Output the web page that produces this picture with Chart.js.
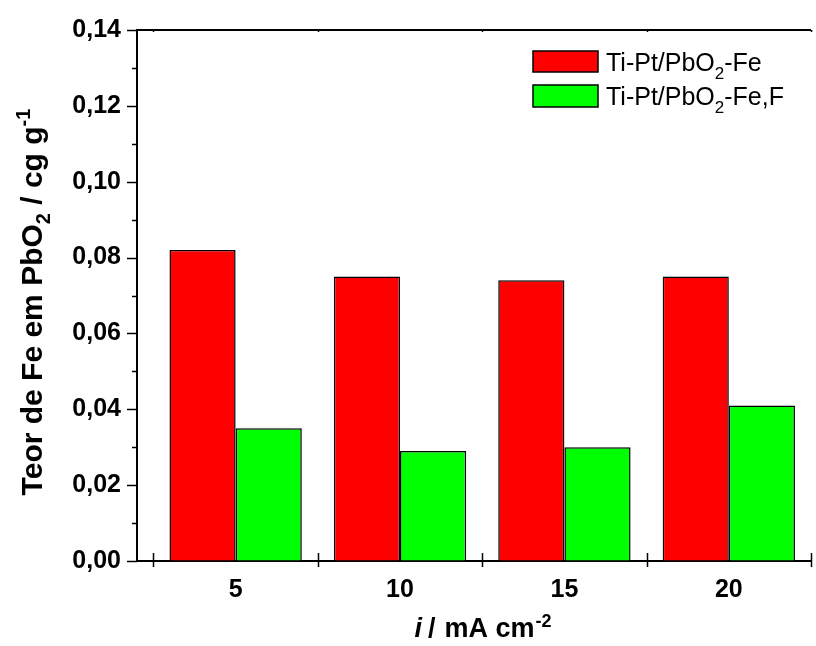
<!DOCTYPE html>
<html>
<head>
<meta charset="utf-8">
<script src="https://cdn.jsdelivr.net/npm/chart.js@4/dist/chart.umd.min.js"></script>
<style>
  body { margin: 0; background: #fff; }
  canvas { display: block; }
</style>
</head>
<body>
<canvas id="feChart" width="816" height="646"></canvas>
<script>
// current density categories (mA cm-2)
const currents = [5, 10, 15, 20];
// Fe content in PbO2 (cg g-1)
const feOnly = [0.082, 0.075, 0.074, 0.075];
const feAndF = [0.035, 0.029, 0.030, 0.041];
// tick marks on the x axis (between the groups)
const xTickMarks = [2.5, 7.5, 12.5, 17.5, 22.5];
const seriesNames = ['Ti-Pt/PbO|2|-Fe', 'Ti-Pt/PbO|2|-Fe,F'];

const FONT = '"Liberation Sans", Arial, sans-serif';

// draws a string with a subscript/superscript part, returns width
function drawRich(ctx, parts, x, y, measureOnly) {
    let cx = x;
    parts.forEach(p => {
        ctx.font = p.font;
        if (!measureOnly) ctx.fillText(p.text, cx, y + (p.dy || 0));
        cx += ctx.measureText(p.text).width + (p.gap || 0);
    });
    return cx - x;
}

const decorations = {
    id: 'decorations',
    afterDraw(chart) {
        const { ctx, chartArea: a, scales: { x, y } } = chart;
        ctx.save();
        ctx.strokeStyle = '#000';
        ctx.fillStyle = '#000';
        ctx.lineWidth = 2;

        // top frame line
        ctx.beginPath();
        ctx.moveTo(a.left, a.top);
        ctx.lineTo(a.right, a.top);
        ctx.stroke();

        ctx.lineWidth = 1.5;
        // x tick marks crossing the axis
        xTickMarks.forEach(v => {
            const px = Math.round(x.getPixelForValue(v)) + 0.5;
            ctx.beginPath();
            ctx.moveTo(px, a.bottom - 8);
            ctx.lineTo(px, a.bottom + 6);
            ctx.stroke();
            ctx.beginPath();
            ctx.moveTo(px, a.top);
            ctx.lineTo(px, a.top + 2);
            ctx.stroke();
        });
        // y tick marks, major every 0.02, minor every 0.01
        for (let k = 0; k <= 14; k++) {
            const py = Math.round(y.getPixelForValue(k / 100)) + 0.5;
            const len = k % 2 === 0 ? 10 : 5;
            ctx.beginPath();
            ctx.moveTo(a.left - len, py);
            ctx.lineTo(a.left, py);
            ctx.stroke();
        }

        // legend
        const colors = chart.data.datasets.map(d => d.backgroundColor);
        const boxes = [[51, 72, 71], [85, 107, 105]];
        seriesNames.forEach((name, i) => {
            const [t, b, base] = boxes[i];
            ctx.fillStyle = colors[i];
            ctx.fillRect(533, t, 65, b - t);
            ctx.lineWidth = 1.5;
            ctx.strokeRect(533, t, 65, b - t);
            ctx.fillStyle = '#000';
            ctx.textAlign = 'left';
            ctx.textBaseline = 'alphabetic';
            const [a1, sub, a2] = name.split('|');
            drawRich(ctx, [
                { text: a1, font: '25px ' + FONT },
                { text: sub, font: '17px ' + FONT, dy: 8 },
                { text: a2, font: '25px ' + FONT }
            ], 606, base);
        });

        // x axis title
        const xParts = [
            { text: 'i', font: 'italic bold 27px ' + FONT, gap: 6 },
            { text: '/', font: 'bold 27px ' + FONT, gap: 9 },
            { text: 'mA cm', font: 'bold 27px ' + FONT, gap: 1 },
            { text: '-2', font: 'bold 18px ' + FONT, dy: -10 }
        ];
        const xw = drawRich(ctx, xParts, 0, 0, true);
        drawRich(ctx, xParts, 483 - xw / 2, 637);

        // y axis title (rotated)
        const yParts = [
            { text: 'Teor de Fe em PbO', font: 'bold 30px ' + FONT },
            { text: '2', font: 'bold 20px ' + FONT, dy: 8 },
            { text: ' / cg g', font: 'bold 30px ' + FONT },
            { text: '-1', font: 'bold 20px ' + FONT, dy: -12 }
        ];
        const yw = drawRich(ctx, yParts, 0, 0, true);
        ctx.translate(42, 302);
        ctx.rotate(-Math.PI / 2);
        drawRich(ctx, yParts, -yw / 2, 0);
        ctx.restore();
    }
};

new Chart(document.getElementById('feChart'), {
    type: 'bar',
    data: {
        datasets: [
            {
                label: 'Ti-Pt/PbO2-Fe',
                data: currents.map((c, i) => ({ x: c, y: feOnly[i] })),
                backgroundColor: '#ff0000',
                borderColor: '#000',
                borderWidth: 1.5
            },
            {
                label: 'Ti-Pt/PbO2-Fe,F',
                data: currents.map((c, i) => ({ x: c, y: feAndF[i] })),
                backgroundColor: '#00ff00',
                borderColor: '#000',
                borderWidth: 1.5
            }
        ]
    },
    options: {
        responsive: false,
        animation: false,
        layout: { padding: { top: 30, right: 5, left: 0, bottom: 0 } },
        categoryPercentage: 0.805,
        barPercentage: 1,
        plugins: {
            legend: { display: false },
            tooltip: { enabled: false }
        },
        scales: {
            x: {
                type: 'linear',
                offset: false,
                min: 2,
                max: 22.5,
                afterBuildTicks: s => { s.ticks = currents.map(v => ({ value: v })); },
                afterFit: s => { s.height = 85; },
                grid: { display: true, offset: false, drawOnChartArea: false, tickLength: 8, tickColor: 'rgba(0,0,0,0)' },
                border: { display: true, color: '#000', width: 2 },
                ticks: { color: '#000', padding: 6, font: { family: FONT, size: 25, weight: 'bold' } }
            },
            y: {
                min: 0,
                max: 0.14,
                afterBuildTicks: s => {
                    const t = [];
                    for (let k = 0; k <= 14; k += 2) t.push({ value: k / 100 });
                    s.ticks = t;
                },
                afterFit: s => { s.width = 137; },
                grid: { display: true, drawOnChartArea: false, tickLength: 10, tickColor: 'rgba(0,0,0,0)' },
                border: { display: true, color: '#000', width: 2 },
                ticks: {
                    color: '#000',
                    padding: 6,
                    font: { family: FONT, size: 25, weight: 'bold' },
                    callback: v => v.toFixed(2).replace('.', ',')
                }
            }
        }
    },
    plugins: [decorations]
});
</script>
</body>
</html>
